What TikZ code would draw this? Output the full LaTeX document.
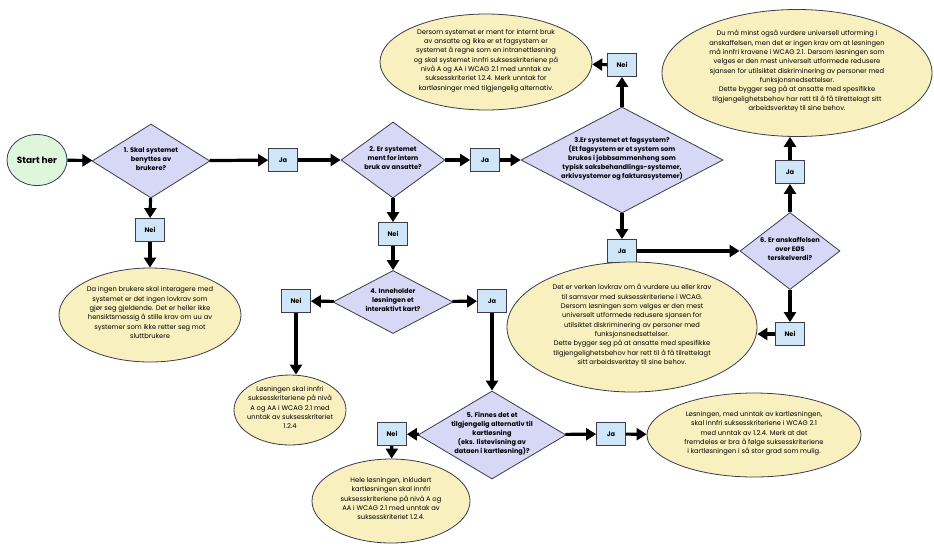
\documentclass[tikz,border=0pt]{standalone}
\usepackage{fontspec}
\setmainfont{Poppins}
\usetikzlibrary{shapes.geometric,arrows.meta}

\definecolor{rombefarge}{HTML}{D7D7F6}
\definecolor{svarfarge}{HTML}{CFE5F8}
\definecolor{boblefarge}{HTML}{F8F0BE}
\definecolor{startfarge}{HTML}{DDF6DC}
\definecolor{kantfarge}{HTML}{3C3C4C}

% tekst i figurene (tar ikke plass, figuren får fast størrelse)
\newcommand{\flowtxt}[1]{\makebox[0pt]{\smash{\begin{tabular}{@{}c@{}}#1\end{tabular}}}}

\tikzset{
	prikk/.style={gray!22, line width=0.9pt, line cap=round, dash pattern=on 0pt off 10pt},
	startboble/.style={ellipse, draw=kantfarge, fill=startfarge, line width=0.8pt,
		minimum width=60pt, minimum height=51pt, inner sep=0pt,
		font=\fontsize{9}{10}\selectfont\bfseries},
	rombe/.style={diamond, draw=kantfarge, fill=rombefarge, line width=0.8pt,
		inner sep=0pt, font=\fontsize{6.6}{9}\selectfont\bfseries},
	svar/.style={rectangle, draw=kantfarge, fill=svarfarge, line width=0.8pt,
		minimum width=29pt, minimum height=23pt, inner sep=0pt,
		font=\fontsize{6.6}{8}\selectfont\bfseries},
	boble/.style={ellipse, draw=kantfarge, fill=boblefarge, line width=0.8pt,
		inner sep=0pt, font=\fontsize{6.7}{9.3}\selectfont},
	pil/.style={line width=3.2pt, -{Triangle[length=10pt,width=12pt]}},
}

\begin{document}
\begin{tikzpicture}[x=1pt, y=-1pt]
	\useasboundingbox[fill=white] (0,0) rectangle (934,547);
	% prikker i bakgrunnen
	\foreach \y in {5,15,...,545}
		\draw[prikk] (5,\y) -- (934,\y);

	% start og spørsmål 1-3
	\node[startboble] (start) at (37,160) {Start her};
	\node[rombe, minimum width=118pt, minimum height=74pt] (d1) at (151,161)
		{\flowtxt{1. Skal systemet\\benyttes av\\brukere?}};
	\node[svar] (ja1) at (283,160) {Ja};
	\node[rombe, minimum width=104pt, minimum height=76pt] (d2) at (393,160)
		{\flowtxt{2. Er systemet\\ment for intern\\bruk av ansatte?}};
	\node[svar] (ja2) at (485,160) {Ja};
	\node[rombe, minimum width=202pt, minimum height=106pt] (d3) at (622,160)
		{\flowtxt{3.Er systemet et fagsystem?\\(Et fagsystem er et system som\\brukes i jobbsammenheng som\\typisk saksbehandlings-systemer,\\arkivsystemer og fakturasystemer)}};

	% spørsmål 3, nei
	\node[svar] (nei3) at (622,65) {Nei};
	\node[boble, minimum width=212pt, minimum height=96pt] (e3) at (486,62)
		{\flowtxt{Dersom systemet er ment for internt bruk\\av ansatte og ikke er et fagsystem er\\systemet å regne som en intranettløsning\\og skal systemet innfri suksesskriteriene på\\nivå A og AA i WCAG 2.1 med unntak av\\suksesskriteriet 1.2.4. Merk unntak for\\kartløsninger med tilgjengelig alternativ.}};

	% spørsmål 3, ja -> spørsmål 6
	\node[svar] (ja3) at (622,251) {Ja};
	\node[rombe, minimum width=100pt, minimum height=77pt] (d6) at (790,251)
		{\flowtxt{6. Er anskaffelsen\\over EØS\\terskelverdi?}};
	\node[svar] (ja6) at (790,172) {Ja};
	\node[boble, minimum width=270pt, minimum height=127pt] (e6ja) at (797,73)
		{\flowtxt{Du må minst også vurdere universell utforming i\\anskaffelsen, men det er ingen krav om at løsningen\\må innfri kravene i WCAG 2.1. Dersom løsningen som\\velges er den mest universelt utformede redusere\\sjansen for utilsiktet diskriminering av personer med\\funksjonsnedsettelser.\\Dette bygger seg på at ansatte med spesifikke\\tilgjengelighetsbehov har rett til å få tilrettelagt sitt\\arbeidsverktøy til sine behov.}};
	\node[svar] (nei6) at (790,334) {Nei};
	\node[boble, minimum width=250pt, minimum height=130pt] (e6nei) at (632,327)
		{\flowtxt{Det er verken lovkrav om å vurdere uu eller krav\\til samsvar med suksesskriteriene i WCAG.\\Dersom løsningen som velges er den mest\\universelt utformede redusere sjansen for\\utilsiktet diskriminering av personer med\\funksjonsnedsettelser.\\Dette bygger seg på at ansatte med spesifikke\\tilgjengelighetsbehov har rett til å få tilrettelagt\\sitt arbeidsverktøy til sine behov.}};

	% spørsmål 1, nei
	\node[svar] (nei1) at (150,230) {Nei};
	\node[boble, minimum width=182pt, minimum height=94pt] (e1) at (150,315)
		{\flowtxt{Da ingen brukere skal interagere med\\systemet er det ingen lovkrav som\\gjør seg gjeldende. Det er heller ikke\\hensiktsmessig å stille krav om uu av\\systemer som ikke retter seg mot\\sluttbrukere}};

	% spørsmål 2, nei -> spørsmål 4
	\node[svar] (nei2) at (393,234) {Nei};
	\node[rombe, minimum width=120pt, minimum height=63pt] (d4) at (393,302)
		{\flowtxt{4. Inneholder\\løsningen et\\interaktivt kart?}};
	\node[svar] (nei4) at (296,301) {Nei};
	\node[svar] (ja4) at (492,301) {Ja};
	\node[boble, minimum width=112pt, minimum height=70pt] (e4) at (290,410)
		{\flowtxt{Løsningen skal innfri\\suksesskriteriene på nivå\\A og AA i WCAG 2.1 med\\unntak av suksesskriteriet\\1.2.4}};

	% spørsmål 5
	\node[rombe, minimum width=148pt, minimum height=88pt] (d5) at (492,435)
		{\flowtxt{5. Finnes det et\\tilgjengelig alternativ til\\kartløsning\\(eks. listevisning av\\dataen i kartløsning)?}};
	\node[svar] (nei5) at (392,434) {Nei};
	\node[svar] (ja5) at (611,434) {Ja};
	\node[boble, minimum width=214pt, minimum height=84pt] (e5ja) at (754,435)
		{\flowtxt{Løsningen, med unntak av kartløsningen,\\skal innfri suksesskriteriene i WCAG 2.1\\med unntak av 1.2.4. Merk at det\\fremdeles er bra å følge suksesskriteriene\\i kartløsningen i så stor grad som mulig.}};
	\node[boble, minimum width=158pt, minimum height=84pt] (e5nei) at (391,501)
		{\flowtxt{Hele løsningen, inkludert\\kartløsningen skal innfri\\suksesskriteriene på nivå A og\\AA i WCAG 2.1 med unntak av\\suksesskriteriet 1.2.4.}};

	% piler
	\draw[pil] (start) -- (d1);
	\draw[pil] (d1) -- (ja1);
	\draw[pil] (ja1) -- (d2);
	\draw[pil] (d2) -- (ja2);
	\draw[pil] (ja2) -- (d3);
	\draw[pil] (d3) -- (nei3);
	\draw[pil] (nei3) -- (e3);
	\draw[pil] (d3) -- (ja3);
	\draw[pil] (ja3) -- (d6);
	\draw[pil] (d6) -- (ja6);
	\draw[pil] (ja6.north) -- (ja6.north |- e6ja.south);
	\draw[pil] (d6) -- (nei6);
	\draw[pil] (nei6.west) -- (nei6.west -| e6nei.east);
	\draw[pil] (d1) -- (nei1);
	\draw[pil] (nei1) -- (e1);
	\draw[pil] (d2) -- (nei2);
	\draw[pil] (nei2) -- (d4);
	\draw[pil] (d4) -- (nei4);
	\draw[pil] (d4) -- (ja4);
	\draw[pil] (nei4.south) -- (nei4.south |- e4.north);
	\draw[pil] (ja4) -- (d5);
	\draw[pil] (d5) -- (nei5);
	\draw[pil] (nei5) -- (e5nei);
	\draw[pil] (d5) -- (ja5);
	\draw[pil] (ja5) -- (e5ja);
\end{tikzpicture}
\end{document}
